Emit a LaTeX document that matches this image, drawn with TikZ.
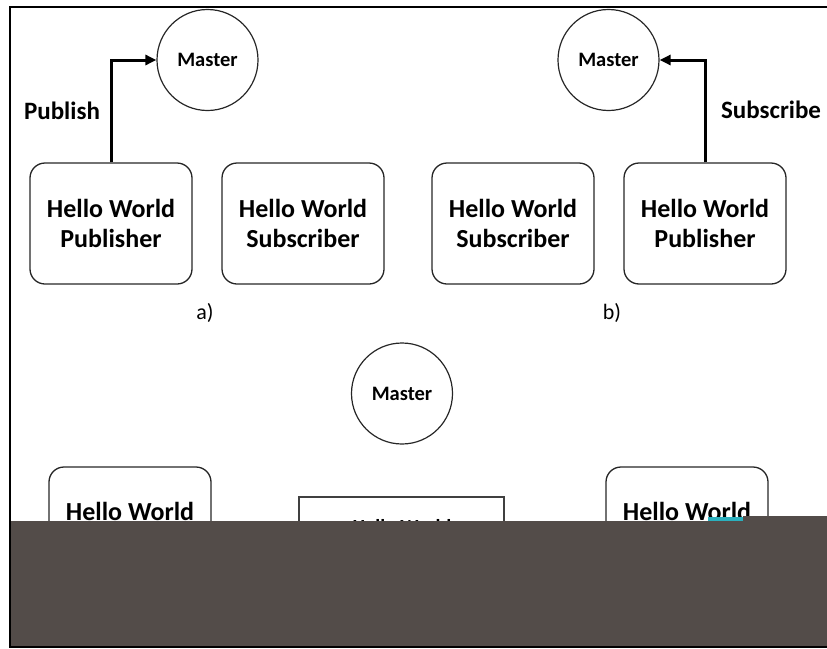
\documentclass[tikz,border=0pt]{standalone}
\usepackage{fontspec}
\setmainfont{Carlito}
\usetikzlibrary{arrows.meta}
\definecolor{coverfill}{RGB}{83,76,73}
\definecolor{tealbit}{RGB}{43,176,190}
\begin{document}
\begin{tikzpicture}[x=1pt,y=-1pt,
  hwbox/.style={draw=black!85, line width=1.3pt, rounded corners=15pt,
    minimum width=162pt, minimum height=121pt, inner sep=0pt,
    align=center, font=\fontsize{26}{30}\selectfont\bfseries},
  plainbox/.style={draw=black!75, line width=1.3pt,
    minimum width=205pt, minimum height=121pt, inner sep=0pt},
  master/.style={draw=black!85, line width=1.2pt, circle, minimum size=101pt,
    inner sep=0pt, font=\fontsize{20.5}{24}\selectfont\bfseries},
  boxtext/.style={inner sep=0pt, anchor=base, font=\fontsize{26}{30}\selectfont\bfseries},
  smalltext/.style={inner sep=0pt, anchor=base, font=\fontsize{20}{24}\selectfont\bfseries},
  edgelabel/.style={inner sep=0pt, font=\fontsize{25}{30}\selectfont\bfseries},
  caption/.style={inner sep=0pt, font=\fontsize{22}{26}\selectfont},
  flow/.style={line width=3pt, -{Triangle[length=11pt,width=10pt]}}]
\useasboundingbox (0,0) rectangle (827,648);

% a) publisher registers with the master
\node[master] (ma) at (207.5,60) {Master};
\node[hwbox] (a1) at (111,223.5) {Hello World\\Publisher};
\node[hwbox] (a2) at (303,223.5) {Hello World\\Subscriber};
\draw[flow] (a1.north) |- (ma.west);
\node[edgelabel] (pub) at (62,111) {Publish};
\node[caption] (capa) at (205,313) {a)};

% b) subscriber registers with the master
\node[master] (mb) at (608.5,60) {Master};
\node[hwbox] (b1) at (513,223.5) {Hello World\\Subscriber};
\node[hwbox] (b2) at (705,223.5) {Hello World\\Publisher};
\draw[flow] (b2.north) |- (mb.east);
\node[edgelabel] (sub) at (771,110) {Subscribe};
\node[caption] (capb) at (612,313) {b)};

% c) direct connection
\node[master] (mc) at (402,393.5) {Master};
\node[hwbox] (c1) at (130,527.5) {};
\node[boxtext] (c1t) at (130,520) {Hello World};
\node[plainbox] (c2) at (401.5,557.5) {};
\node[smalltext] (c2t) at (402,533) {Hello World};
\node[hwbox] (c3) at (687,527.5) {};
\node[boxtext] (c3t) at (687,520) {Hello World};

% covering panel over the lower part
\fill[coverfill] (11,521) rectangle (827,647);
\fill[coverfill] (743,516) rectangle (827,521);
\fill[tealbit] (708,516.5) rectangle (743,521);

% outer frame
\draw[line width=2pt] (10,7) rectangle (832,647);
\end{tikzpicture}
\end{document}
